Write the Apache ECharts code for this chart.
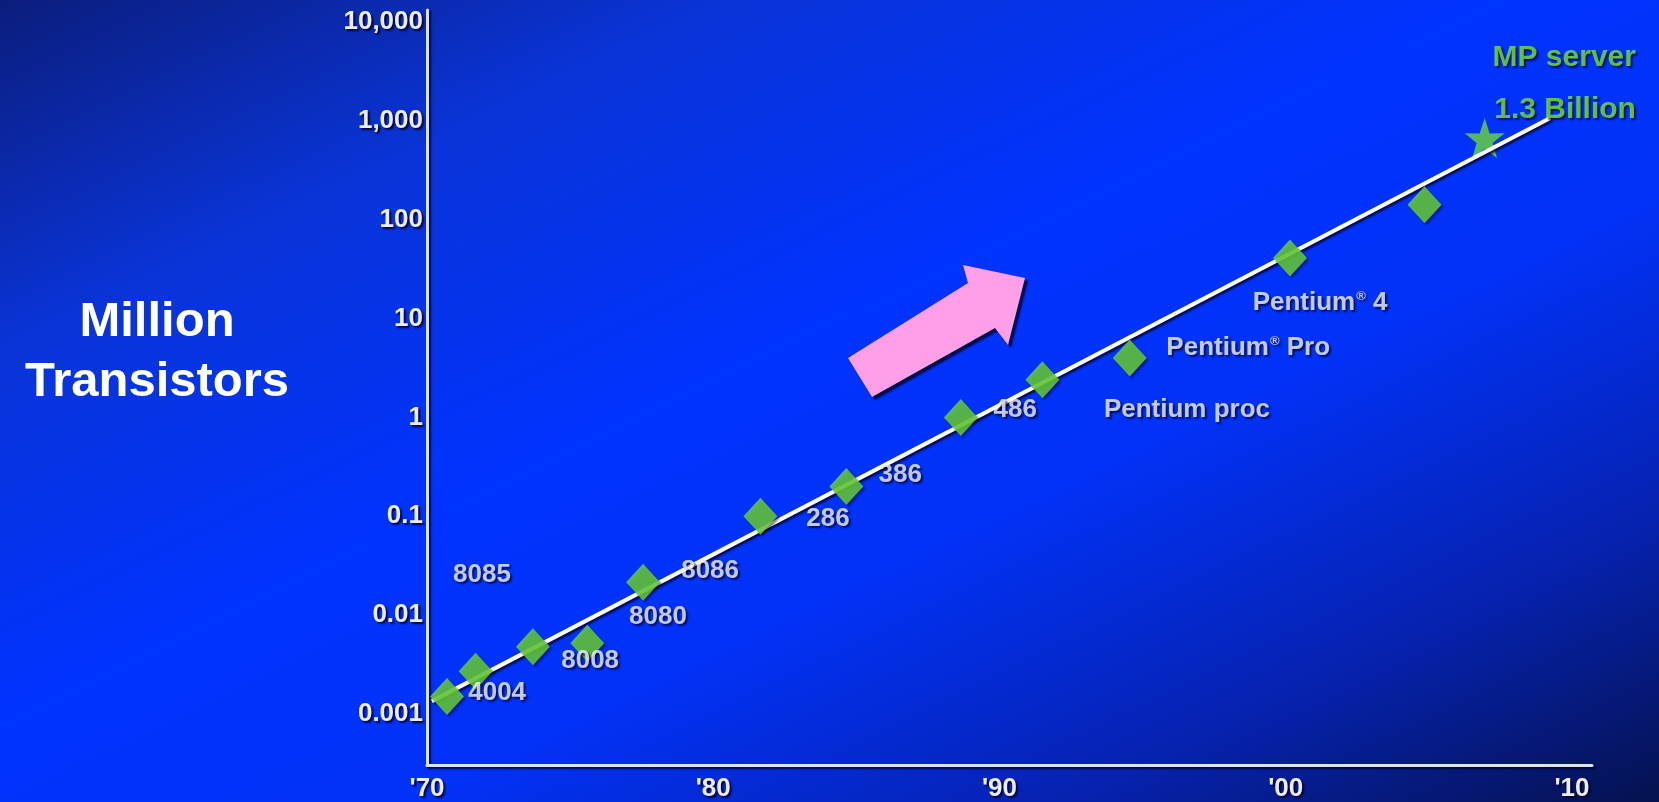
<!DOCTYPE html>
<html>
<head>
<meta charset="utf-8">
<title>Million Transistors</title>
<script src="https://cdn.jsdelivr.net/npm/echarts@6/dist/echarts.min.js"></script>
<style>
  html, body { margin: 0; padding: 0; }
  #main {
    width: 1659px;
    height: 802px;
    background: linear-gradient(to bottom right, #0b1d7c 0%, #0a34d8 22%, #0033ff 45%, #0232f8 62%, #0622b0 82%, #05124f 100%);
  }
</style>
</head>
<body>
<div id="main"></div>
<script>
// processors (year, million transistors)
var chipYears  = [1970.7, 1971.7, 1973.7, 1975.6, 1977.55, 1981.65, 1984.65, 1988.65, 1991.5, 1994.55, 2000.15, 2004.85];
var chipValues = [0.0015, 0.0027, 0.0048, 0.0052, 0.0215, 0.1, 0.2, 1.0, 2.4, 4.0, 41, 142];

// MP server, 1.3 billion
var serverYears  = [2006.95];
var serverValues = [670];

// trend line ends
var trendYears  = [1970.17, 2009.24];
var trendValues = [0.00135, 1070];

// text notes placed in data space
var noteNames  = ['4004', '8085', '8008', '8080', '8086', '286', '386', '486', 'Pentium proc', 'Pentium® Pro', 'Pentium® 4'];
var noteYears  = [1972.45, 1971.92, 1975.7, 1978.07, 1979.89, 1984.01, 1986.53, 1990.55, 1996.55, 1998.69, 2001.2];
var noteValues = [0.00163, 0.0254, 0.00343, 0.00955, 0.0278, 0.0933, 0.265, 1.205, 1.205, 5.09, 14.5];

var serverNotes      = ['MP server', '1.3 Billion'];
var serverNoteYears  = [2009.73, 2009.76];
var serverNoteValues = [4325, 1291];

var xTickLabels = ["'70", "'80", "'90", "'00", "'10"];
var yTickLabels = ['0.001', '0.01', '0.1', '1', '10', '100', '1,000', '10,000'];

function pairs(xs, ys, names) {
  var out = [];
  for (var i = 0; i < xs.length; i++) {
    var d = { value: [xs[i], ys[i]] };
    if (names) d.name = names[i];
    out.push(d);
  }
  return out;
}

var shadow = { textShadowColor: 'rgba(0,0,40,0.9)', textShadowBlur: 2, textShadowOffsetX: 2, textShadowOffsetY: 2 };
var font = '"Liberation Sans", Arial, sans-serif';
var starPath = 'path://M50,0 L61.8,35.1 L97.6,34.5 L69.1,56.7 L79.4,90.5 L50,70 L20.6,90.5 L30.9,56.7 L2.4,34.5 L38.2,35.1 Z';
var axisLineStyle = { color: '#dfe0ee', width: 3, shadowColor: 'rgba(0,0,40,0.8)', shadowOffsetX: 2, shadowOffsetY: 2, shadowBlur: 2 };
var green = '#6cd834';

var chart = echarts.init(document.getElementById('main'));

var option = {
  backgroundColor: 'transparent',
  animation: false,
  grid: { left: 427, right: 67, top: 10, bottom: 36 },
  xAxis: {
    type: 'value',
    min: 1970,
    max: 2010.7,
    interval: 10,
    splitLine: { show: false },
    axisTick: { show: false },
    axisLine: { lineStyle: axisLineStyle },
    axisLabel: Object.assign({
      color: '#ececf2', fontSize: 26, fontWeight: 'bold', fontFamily: font, margin: 11,
      formatter: function (v) {
        var i = Math.round((v - 1970) / 10);
        return Math.abs(v - 1970 - i * 10) < 0.01 ? xTickLabels[i] : '';
      }
    }, shadow)
  },
  yAxis: {
    type: 'log',
    logBase: 10,
    min: 0.000305,
    max: 13220,
    splitLine: { show: false },
    axisTick: { show: false },
    axisLine: { lineStyle: axisLineStyle },
    axisLabel: Object.assign({
      color: '#ececf2', fontSize: 26, fontWeight: 'bold', fontFamily: font, margin: 4,
      formatter: function (v) {
        var p = Math.log10(v);
        var r = Math.round(p);
        return Math.abs(p - r) < 0.01 ? yTickLabels[r + 3] : '';
      }
    }, shadow)
  },
  graphic: [
    {
      type: 'text',
      x: 157, y: 352,
      style: {
        text: 'Million\nTransistors',
        fill: '#ffffff',
        font: 'bold 49px ' + font,
        lineHeight: 60,
        textAlign: 'center',
        textVerticalAlign: 'middle',
        shadowColor: 'rgba(0,0,40,0.9)', shadowBlur: 3, shadowOffsetX: 3, shadowOffsetY: 3
      }
    },
    {
      type: 'polygon',
      shape: { points: [[848, 358], [968, 283], [963, 265], [1025, 278], [1008, 345], [995, 328], [872, 397]] },
      style: { fill: '#ff9fe8', shadowColor: 'rgba(0,0,40,0.85)', shadowBlur: 2, shadowOffsetX: 3, shadowOffsetY: 3 }
    }
  ],
  series: [
    {
      name: 'MP server',
      type: 'scatter',
      symbol: starPath,
      symbolSize: 40,
      z: 2,
      itemStyle: { color: green },
      data: pairs(serverYears, serverValues)
    },
    {
      name: 'trend',
      type: 'line',
      symbol: 'none',
      z: 3,
      lineStyle: { color: '#ffffff', width: 4, shadowColor: 'rgba(0,0,40,0.8)', shadowBlur: 2, shadowOffsetX: 2, shadowOffsetY: 2 },
      data: pairs(trendYears, trendValues)
    },
    {
      name: 'processors',
      type: 'scatter',
      symbol: 'diamond',
      symbolSize: [34, 37],
      z: 4,
      itemStyle: { color: green, shadowColor: 'rgba(0,0,40,0.6)', shadowBlur: 2, shadowOffsetX: 2, shadowOffsetY: 2 },
      data: pairs(chipYears, chipValues)
    },
    {
      name: 'notes',
      type: 'scatter',
      symbolSize: 0,
      silent: true,
      z: 5,
      label: Object.assign({
        show: true,
        position: 'inside',
        color: '#f4f4f8',
        fontSize: 26,
        fontWeight: 'bold',
        fontFamily: font,
        formatter: function (p) { return p.name.replace('®', '{r|®}'); },
        rich: { r: { fontSize: 13, fontWeight: 'bold', color: '#f4f4f8', verticalAlign: 'top', padding: [0, 0, 0, 1] } }
      }, shadow),
      data: pairs(noteYears, noteValues, noteNames)
    },
    {
      name: 'server notes',
      type: 'scatter',
      symbolSize: 0,
      silent: true,
      z: 5,
      label: Object.assign({
        show: true,
        position: 'inside',
        color: '#76e636',
        fontSize: 30,
        fontWeight: 'bold',
        fontFamily: font,
        formatter: '{b}'
      }, shadow),
      data: pairs(serverNoteYears, serverNoteValues, serverNotes)
    }
  ]
};

chart.setOption(option);
</script>
</body>
</html>
